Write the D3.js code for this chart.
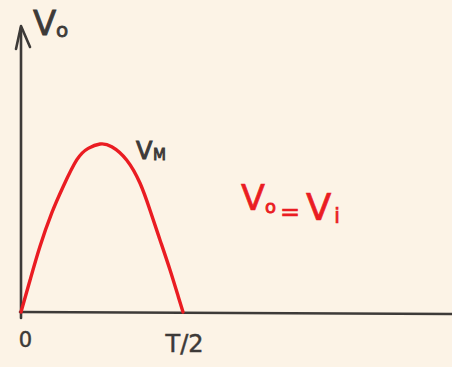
<!DOCTYPE html>
<html>
<head>
<meta charset="utf-8">
<script src="https://cdn.jsdelivr.net/npm/d3@7"></script>
<style>
  html, body { margin: 0; padding: 0; background: #fcf3e6; }
  svg { display: block; }
</style>
</head>
<body>
<svg id="chart" width="452" height="367"></svg>
<script>
// Half-wave output: time as a fraction of T/2, voltage as a fraction of V_M
const timeFrac = [0, 0.056, 0.117, 0.19, 0.26, 0.344, 0.415, 0.488, 0.56, 0.652, 0.735, 0.796, 0.858, 0.92, 0.971, 1.0];
const voltFrac = [0, 0.19, 0.39, 0.59, 0.746, 0.905, 0.974, 1.0, 0.984, 0.905, 0.766, 0.607, 0.429, 0.25, 0.091, 0];
const tickValues = [0, 1];
const tickLabels = ["0", "T/2"];

const svg = d3.select("#chart");
const x = d3.scaleLinear().domain([0, 1]).range([21, 183]);
const y = d3.scaleLinear().domain([0, 1]).range([312, 144]);

const axisColor = "#3d3a38";
const red = "#ea1c22";
const font = "DejaVu Sans, sans-serif";

// horizontal time axis, running to the right edge
svg.append("line")
  .attr("x1", 20).attr("y1", 312).attr("x2", 452).attr("y2", 314)
  .attr("stroke", axisColor).attr("stroke-width", 2.6).attr("stroke-linecap", "round");

// vertical voltage axis with arrowhead
svg.append("line")
  .attr("x1", 21).attr("y1", 318).attr("x2", 21).attr("y2", 28)
  .attr("stroke", axisColor).attr("stroke-width", 2.6).attr("stroke-linecap", "round");
svg.append("path")
  .attr("d", "M16,49 L21,26 L30,47")
  .attr("fill", "none").attr("stroke", axisColor).attr("stroke-width", 2.6)
  .attr("stroke-linejoin", "round").attr("stroke-linecap", "round");

// tick labels via a bottom axis without tick marks
const axisG = svg.append("g")
  .attr("transform", "translate(0,326)")
  .call(d3.axisBottom(x).tickValues(tickValues).tickSize(0)
    .tickFormat((d, i) => tickLabels[i]));
axisG.select(".domain").remove();
axisG.selectAll("text")
  .attr("font-family", font)
  .attr("fill", axisColor).attr("stroke", axisColor).attr("stroke-width", 0.5);
axisG.selectAll(".tick").filter((d, i) => i === 0).select("text")
  .attr("font-size", 21).attr("dy", "0.85em").attr("dx", 4);
axisG.selectAll(".tick").filter((d, i) => i === 1).select("text")
  .attr("font-size", 24).attr("dy", "0.95em").attr("dx", 1);

// output waveform
const pts = timeFrac.map((t, i) => [t, voltFrac[i]]);
svg.append("path")
  .datum(pts)
  .attr("d", d3.line().x(d => x(d[0])).y(d => y(d[1])).curve(d3.curveNatural))
  .attr("fill", "none").attr("stroke", red).attr("stroke-width", 3.4)
  .attr("stroke-linecap", "round");

// small helper for placed glyph groups
function label(txt, px, py, size, color, sw) {
  return svg.append("text").attr("x", px).attr("y", py)
    .attr("font-family", font).attr("font-size", size)
    .attr("fill", color).attr("stroke", color).attr("stroke-width", sw)
    .text(txt);
}

// axis name V_o
label("V", 33, 35, 34, axisColor, 0.8);
label("o", 56, 37, 20, axisColor, 0.8);

// peak label V_M
label("V", 136, 159, 24, axisColor, 1.0);
label("M", 153, 160, 15, axisColor, 0.9);

// relation V_o = V_i
label("V", 241, 210, 35, red, 0.7);
label("o", 265, 213, 18, red, 0.9);
label("=", 280, 220, 24, red, 0.6);
label("V", 306, 220, 37, red, 0.7);
label("i", 334, 223, 22, red, 0.6);
</script>
</body>
</html>
